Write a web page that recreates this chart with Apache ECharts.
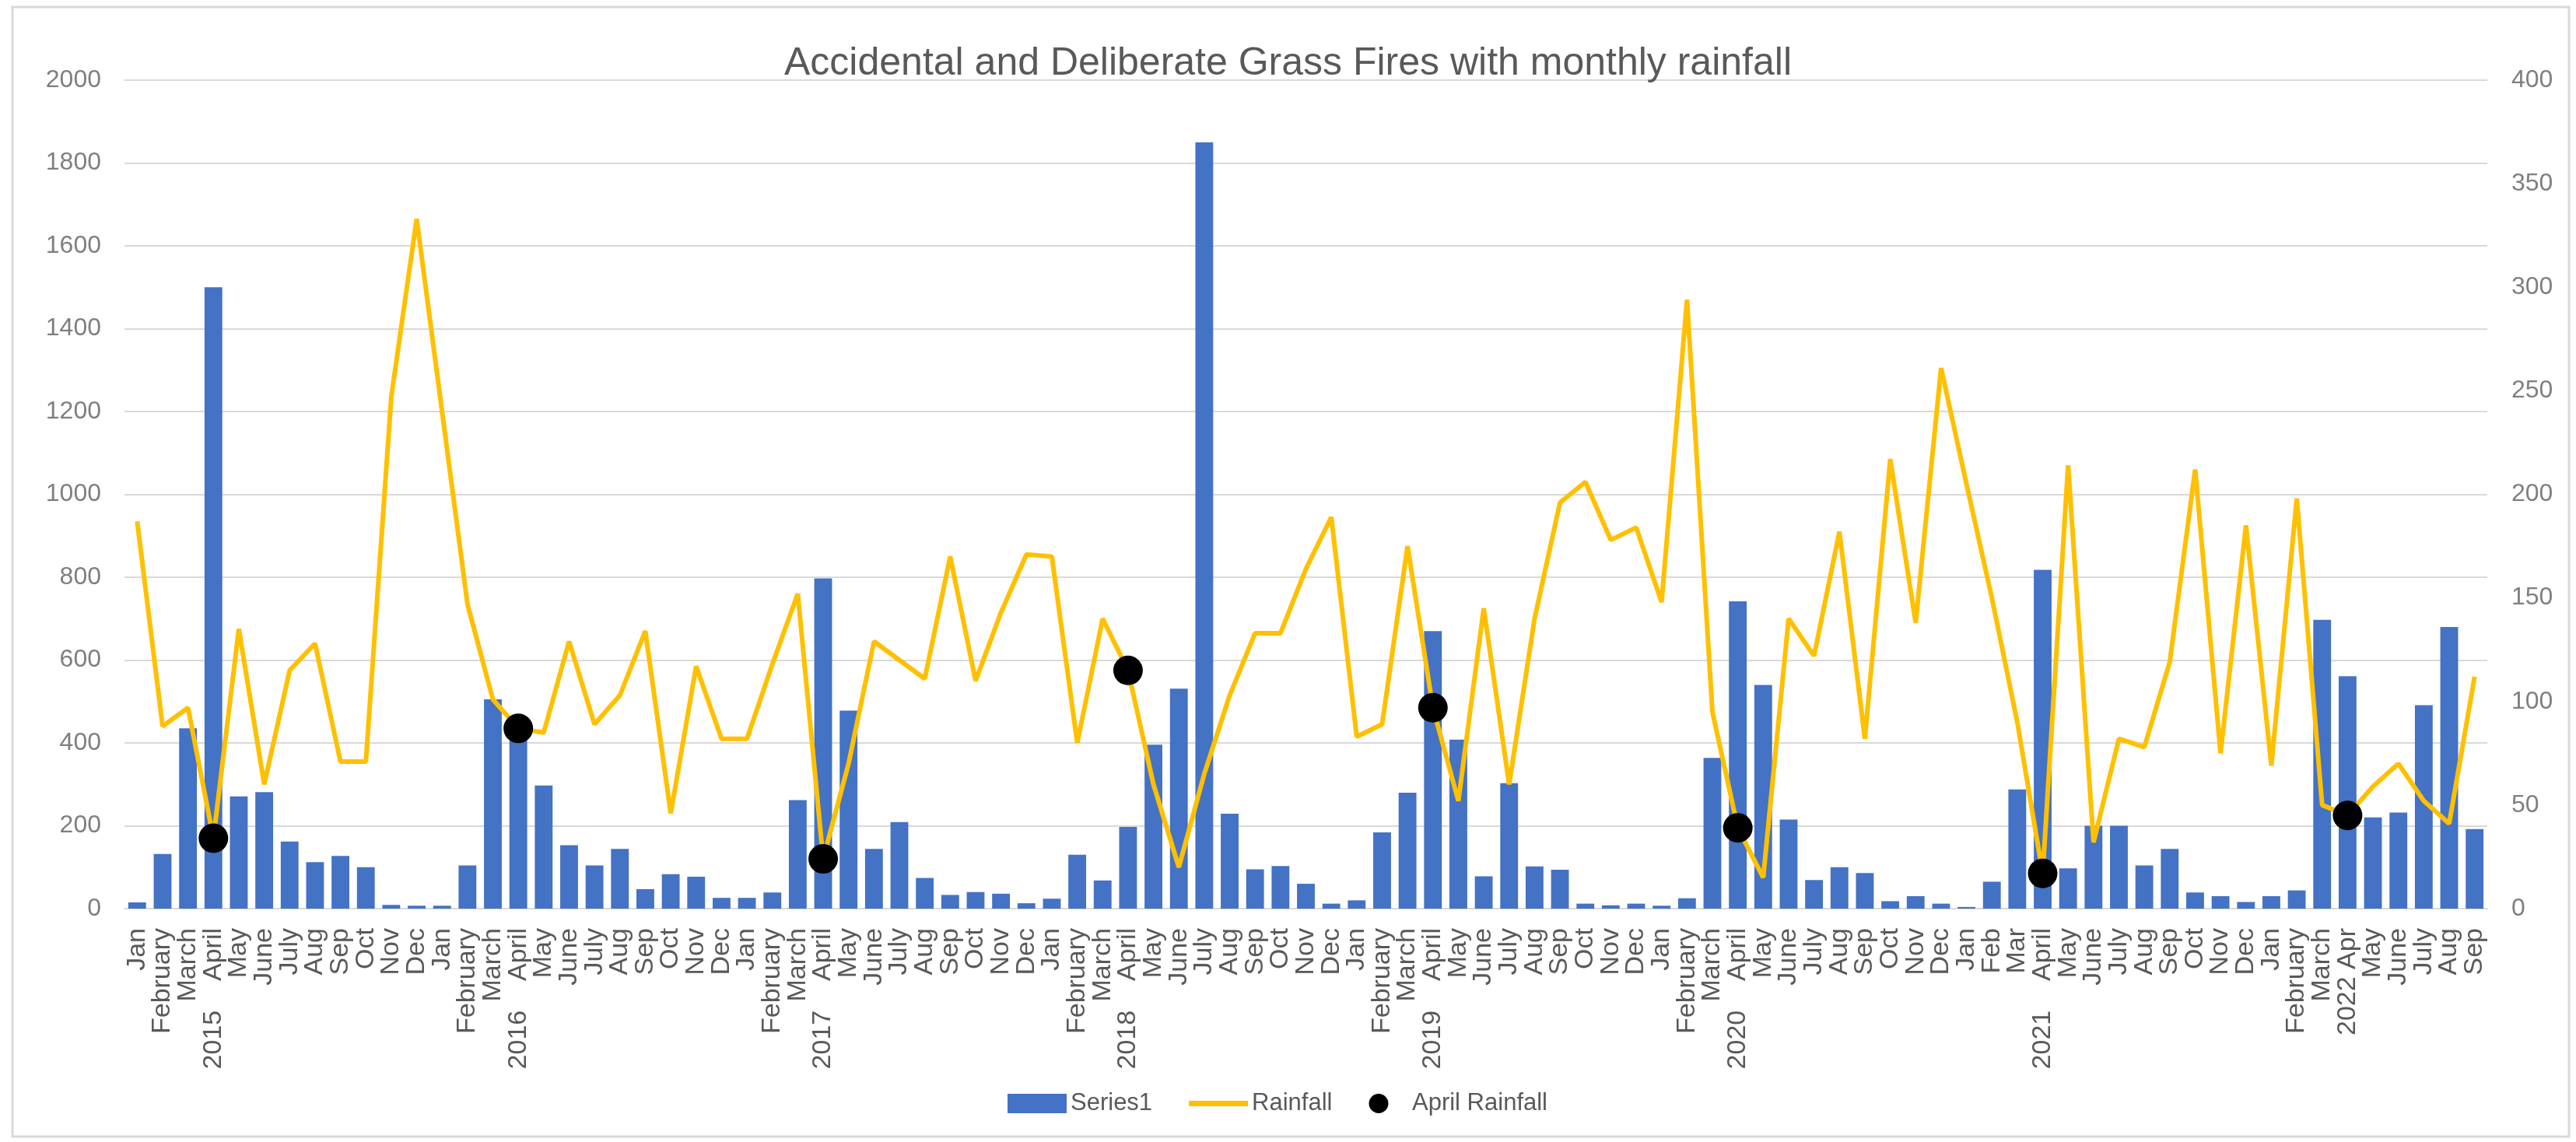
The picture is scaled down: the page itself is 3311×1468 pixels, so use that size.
<!DOCTYPE html>
<html>
<head>
<meta charset="utf-8">
<script src="https://cdn.jsdelivr.net/npm/echarts@6/dist/echarts.min.js"></script>
<style>
  html, body { margin: 0; padding: 0; background: #fff; }
  #chart { width: 3311px; height: 1468px; }
</style>
</head>
<body>
<div id="chart"></div>
<script>
// month labels, year shown under each April like the Excel axis
const categories = [
  "Jan", "February", "March", "2015    April", "May", "June", "July", "Aug", "Sep", "Oct", "Nov", "Dec",
  "Jan", "February", "March", "2016    April", "May", "June", "July", "Aug", "Sep", "Oct", "Nov", "Dec",
  "Jan", "February", "March", "2017    April", "May", "June", "July", "Aug", "Sep", "Oct", "Nov", "Dec",
  "Jan", "February", "March", "2018    April", "May", "June", "July", "Aug", "Sep", "Oct", "Nov", "Dec",
  "Jan", "February", "March", "2019    April", "May", "June", "July", "Aug", "Sep", "Oct", "Nov", "Dec",
  "Jan", "February", "March", "2020    April", "May", "June", "July", "Aug", "Sep", "Oct", "Nov", "Dec",
  "Jan", "Feb", "Mar", "2021    April", "May", "June", "July", "Aug", "Sep", "Oct", "Nov", "Dec",
  "Jan", "February", "March", "2022 Apr", "May", "June", "July", "Aug", "Sep"
];

// grass fires per month
const fires = [
  15, 132, 435, 1500, 271, 281, 162, 112, 127, 100, 9, 7,
  7, 104, 505, 420, 297, 153, 104, 144, 47, 83, 77, 26,
  26, 39, 262, 797, 478, 144, 209, 74, 33, 40, 36, 13,
  24, 130, 68, 197, 396, 531, 1850, 229, 95, 103, 60, 12,
  20, 184, 280, 670, 408, 78, 303, 102, 94, 12, 8, 12,
  7, 25, 364, 742, 540, 215, 69, 100, 86, 18, 30, 12,
  4, 65, 288, 818, 97, 200, 200, 104, 144, 39, 30, 16,
  30, 44, 697, 561, 220, 232, 491, 680, 192
];

// monthly rainfall (right axis)
const rainfall = [
  187, 88, 97, 34, 135, 60, 115, 128, 71, 71, 247, 333,
  240, 147, 101, 87, 85, 129, 89, 103, 134, 46, 117, 82,
  82, 118, 152, 24, 70, 129, 120, 111, 170, 110, 143, 171,
  170, 80, 140, 115, 60, 20, 65, 103, 133, 133, 164, 189,
  83, 89, 175, 97, 52, 145, 60, 140, 196, 206, 178, 184,
  148, 294, 95, 39, 15, 140, 122, 182, 82, 217, 138, 261,
  205, 150, 90, 17, 214, 32, 82, 78, 119, 212, 75, 185,
  69, 198, 50, 45, 59, 70, 52, 41, 112
];

// April rainfall markers, 2015..2022
const aprilRainfall = [34, 87, 24, 115, 97, 39, 17, 45];

const leftTicks = { min: 0, max: 2000, interval: 200 };
const rightTicks = { min: 0, max: 400, interval: 50 };

let k = 0;
const aprilData = categories.map((c) => (c.indexOf("Apr") >= 0 ? aprilRainfall[k++] : "-"));

const font = "'Liberation Sans', Arial, sans-serif";
const chart = echarts.init(document.getElementById("chart"));

const option = {
  backgroundColor: "#fff",
  animation: false,
  title: {
    text: "Accidental and Deliberate Grass Fires with monthly rainfall",
    left: "center",
    top: 52,
    textStyle: { fontFamily: font, fontSize: 50, fontWeight: "normal", color: "#595959" },
  },
  graphic: [
    {
      type: "rect",
      shape: { x: 16, y: 9, width: 3286, height: 1452 },
      style: { fill: "none", stroke: "#d9d9d9", lineWidth: 3 },
      silent: true,
    },
  ],
  legend: {
    left: 1290,
    top: 1398,
    itemWidth: 76,
    itemHeight: 25,
    itemGap: 47,
    textStyle: { fontFamily: font, fontSize: 31, color: "#595959" },
    data: [
      { name: "Series1", icon: "rect" },
      { name: "Rainfall", icon: "path://M0,0 L76,0 L76,7 L0,7 Z" },
      { name: "April Rainfall", icon: "circle" },
    ],
  },
  grid: { left: 160, right: 114, top: 103, bottom: 300, outerBoundsMode: "none" },
  xAxis: {
    type: "category",
    data: categories,
    axisTick: { show: false },
    axisLine: { lineStyle: { color: "#d9d9d9", width: 2 } },
    axisLabel: {
      interval: 0,
      rotate: 90,
      margin: 25,
      hideOverlap: false,
      fontFamily: font,
      fontSize: 34,
      color: "#595959",
    },
  },
  yAxis: [
    {
      type: "value",
      min: leftTicks.min,
      max: leftTicks.max,
      interval: leftTicks.interval,
      axisLine: { show: false },
      axisTick: { show: false },
      splitLine: { lineStyle: { color: "#d9d9d9", width: 2 } },
      axisLabel: { margin: 30, fontFamily: font, fontSize: 32, color: "#7f7f7f", formatter: (v) => String(v) },
    },
    {
      type: "value",
      min: rightTicks.min,
      max: rightTicks.max,
      interval: rightTicks.interval,
      axisLine: { show: false },
      axisTick: { show: false },
      splitLine: { show: false },
      axisLabel: { margin: 31, fontFamily: font, fontSize: 32, color: "#7f7f7f", formatter: (v) => String(v) },
    },
  ],
  series: [
    {
      name: "Series1",
      type: "bar",
      data: fires,
      barCategoryGap: "30%",
      itemStyle: { color: "#4472C4" },
    },
    {
      name: "Rainfall",
      type: "line",
      yAxisIndex: 1,
      data: rainfall,
      symbol: "none",
      lineStyle: { color: "#FFC000", width: 6 },
      itemStyle: { color: "#FFC000" },
      z: 3,
    },
    {
      name: "April Rainfall",
      type: "scatter",
      yAxisIndex: 1,
      data: aprilData,
      symbolSize: 38,
      itemStyle: { color: "#000", opacity: 1 },
      z: 4,
    },
  ],
};

chart.setOption(option);
</script>
</body>
</html>
